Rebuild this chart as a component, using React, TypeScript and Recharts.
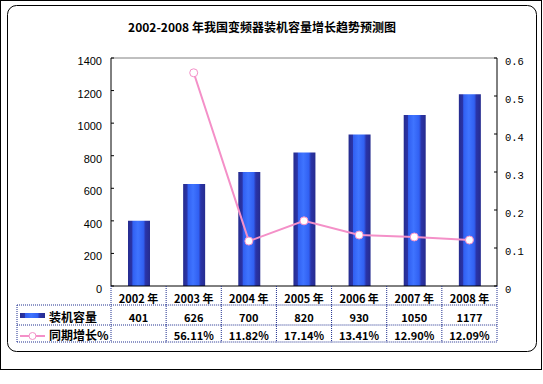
import React from 'react';
import { ComposedChart, Bar, Line, XAxis, YAxis, ReferenceLine } from 'recharts';

const years = ['2002 年', '2003 年', '2004 年', '2005 年', '2006 年', '2007 年', '2008 年'];
const capacity = [401, 626, 700, 820, 930, 1050, 1177];
const growth = [null, 0.5611, 0.1182, 0.1714, 0.1341, 0.129, 0.1209];
const growthLabels = ['', '56.11%', '11.82%', '17.14%', '13.41%', '12.90%', '12.09%'];
const leftTicks = [0, 200, 400, 600, 800, 1000, 1200, 1400];
const rightTicks = [0, 0.1, 0.2, 0.3, 0.4, 0.5, 0.6];

const data = years.map((year, i) => ({
  year,
  capacity: capacity[i],
  growth: growth[i],
  growthLabel: growthLabels[i],
}));

const W = 543;
const H = 384;
const MARGIN = { top: 58, right: 0, bottom: 42, left: 51 };
const LEFT_AXIS_W = 60;
const RIGHT_AXIS_W = 46;
const PLOT_W = W - MARGIN.left - MARGIN.right - LEFT_AXIS_W - RIGHT_AXIS_W;

const PINK = '#F490C8';
const GRID = '#1F2F8F';
const CJK = '"Noto Sans CJK SC", sans-serif';

const BarIcon = ({ x, y }: { x: number; y: number }) => (
  <rect x={x} y={y} width={25} height={5} fill="url(#barGrad)" />
);

const TableTick = (props: any) => {
  const { x, y, index, payload, visibleTicksCount } = props;
  const count = visibleTicksCount || years.length;
  const bw = typeof props.width === 'number' && props.width > 0 ? props.width / count : PLOT_W / count;
  const left = x - bw / 2;
  const right = x + bw / 2;
  const row = data[index];
  const dot = { stroke: GRID, strokeWidth: 1, strokeDasharray: '1 1' };
  const legendLeft = left - 94;
  return (
    <g>
      <line x1={left} y1={y} x2={left} y2={y + 56} {...dot} />
      {index === count - 1 && <line x1={right} y1={y} x2={right} y2={y + 56} {...dot} />}
      <line x1={index === 0 ? legendLeft : left} y1={y + 19} x2={right} y2={y + 19} {...dot} />
      <line x1={index === 0 ? legendLeft : left} y1={y + 39} x2={right} y2={y + 39} {...dot} />
      <line x1={index === 0 ? legendLeft : left} y1={y + 56} x2={right} y2={y + 56} {...dot} />
      <text x={x} y={y + 17} textAnchor="middle" fontSize={11} fontWeight={700} fontFamily={CJK} fill="#000">
        {payload.value}
      </text>
      <text x={x} y={y + 36} textAnchor="middle" fontSize={11} fontWeight={700} fontFamily={CJK} fill="#000">
        {row.capacity}
      </text>
      <text x={x} y={y + 54} textAnchor="middle" fontSize={11} fontWeight={700} fontFamily={CJK} fill="#000">
        {row.growthLabel}
      </text>
      {index === 0 && (
        <g>
          <line x1={legendLeft} y1={y + 19} x2={legendLeft} y2={y + 56} {...dot} />
          <BarIcon x={legendLeft + 3} y={y + 27} />
          <text x={legendLeft + 32} y={y + 36} fontSize={12} fontWeight={700} fontFamily={CJK} fill="#000">
            装机容量
          </text>
          <line x1={legendLeft + 3} y1={y + 50} x2={legendLeft + 28} y2={y + 50} stroke={PINK} strokeWidth={2} />
          <circle cx={legendLeft + 15.5} cy={y + 50} r={3.5} fill="#fff" stroke={PINK} strokeWidth={1} />
          <text x={legendLeft + 32} y={y + 54} fontSize={12} fontWeight={700} fontFamily={CJK} fill="#000">
            同期增长%
          </text>
        </g>
      )}
    </g>
  );
};

const LeftTick = (props: any) => {
  const { x, y, payload } = props;
  return (
    <text x={x} y={y + 7} textAnchor="end" fontSize={11} fontFamily='"Liberation Sans", Arial, sans-serif' fill="#000">
      {payload.value}
    </text>
  );
};

const RightTick = (props: any) => {
  const { x, y, payload } = props;
  const v = payload.value;
  return (
    <text x={x} y={y + 7} textAnchor="start" fontSize={10.5} fontFamily='"Liberation Mono", monospace' fill="#000">
      {v === 0 ? '0' : v.toFixed(1)}
    </text>
  );
};

const App = () => {
  return (
    <div style={{ position: 'absolute', left: 0, top: 0, width: W, height: H, background: '#fff' }}>
      <svg width={W} height={H} style={{ position: 'absolute', left: 0, top: 0 }}>
        <rect x={0.5} y={0.5} width={541} height={369} fill="#fff" stroke="#000" />
        <rect x={7.5} y={5.5} width={529} height={346} rx={9} ry={9} fill="#fff" stroke="#000" />
        <text x={262} y={32} textAnchor="middle" fontSize={12} fontWeight={700} fontFamily={CJK} fill="#000">
          2002-2008 年我国变频器装机容量增长趋势预测图
        </text>
      </svg>
      <div style={{ position: 'absolute', left: 0, top: 0 }}>
        <ComposedChart width={W} height={H} data={data} margin={MARGIN}>
          <defs>
            <linearGradient id="barGrad" x1="0" y1="0" x2="1" y2="0">
              <stop offset="0%" stopColor="#262C8E" />
              <stop offset="18%" stopColor="#2A34A8" />
              <stop offset="22%" stopColor="#3160F2" />
              <stop offset="45%" stopColor="#3F74FF" />
              <stop offset="70%" stopColor="#3160F2" />
              <stop offset="80%" stopColor="#2A34A8" />
              <stop offset="100%" stopColor="#262C8E" />
            </linearGradient>
          </defs>
          <XAxis
            dataKey="year"
            xAxisId={0}
            interval={0}
            height={56}
            tickSize={0}
            tickMargin={0}
            tickLine={false}
            axisLine={{ stroke: '#000' }}
            tick={<TableTick />}
          />
          <YAxis
            yAxisId="left"
            domain={[0, 1400]}
            ticks={leftTicks}
            width={LEFT_AXIS_W}
            tickSize={-3}
            tickMargin={12}
            axisLine={{ stroke: '#000' }}
            tickLine={{ stroke: '#000' }}
            tick={<LeftTick />}
          />
          <YAxis
            yAxisId="right"
            orientation="right"
            domain={[0, 0.6]}
            ticks={rightTicks}
            width={RIGHT_AXIS_W}
            tickSize={-3}
            tickMargin={11}
            axisLine={{ stroke: '#000' }}
            tickLine={{ stroke: '#000' }}
            tick={<RightTick />}
          />
          <ReferenceLine yAxisId="left" y={1400} stroke="#808080" />
          <Bar yAxisId="left" dataKey="capacity" name="装机容量" barSize={22} fill="url(#barGrad)" isAnimationActive={false} />
          <Line
            yAxisId="right"
            dataKey="growth"
            name="同期增长%"
            type="linear"
            stroke={PINK}
            strokeWidth={2}
            dot={{ r: 4, fill: '#fff', stroke: PINK, strokeWidth: 1 }}
            activeDot={false}
            connectNulls={false}
            isAnimationActive={false}
          />
        </ComposedChart>
      </div>
    </div>
  );
};

export default App;
